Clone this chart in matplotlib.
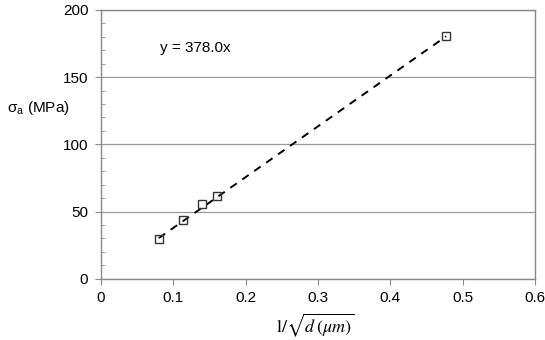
import numpy as np
import matplotlib
matplotlib.use("Agg")
import matplotlib.pyplot as plt
from matplotlib.ticker import MultipleLocator

plt.rcParams['font.family'] = ['Liberation Sans', 'DejaVu Sans']
plt.rcParams['mathtext.fontset'] = 'stix'

## data
inv_sqrt_d = [0.080, 0.114, 0.140, 0.161, 0.477]
sigma_a = [29.3, 43.7, 55.4, 61.8, 180.4]
slope = 378.0
xticks = [0, 0.1, 0.2, 0.3, 0.4, 0.5, 0.6]
xtick_labels = ['0', '0.1', '0.2', '0.3', '0.4', '0.5', '0.6']
yticks = [0, 50, 100, 150, 200]

fig = plt.figure(figsize=(5.45, 3.4), dpi=100)
ax = fig.add_axes([0.185, 0.180, 0.797, 0.791])

# trend line through origin
xfit = np.array([min(inv_sqrt_d), max(inv_sqrt_d)])
ax.plot(xfit, slope * xfit, color='black', ls=(0, (4, 3.5)), lw=1.4, zorder=3)
ax.plot(inv_sqrt_d, sigma_a, ls='none', marker='s', ms=6, mfc='none',
        mec='#333333', mew=1.0, zorder=4)

ax.text(0.082, 172, 'y = 378.0x', fontsize=11, va='center', ha='left')

ax.set_xlim(0, 0.6)
ax.set_ylim(0, 200)
ax.set_xticks(xticks, xtick_labels)
ax.set_yticks(yticks, [str(v) for v in yticks])
ax.yaxis.set_minor_locator(MultipleLocator(10))
ax.tick_params(axis='both', which='major', direction='out', length=4,
               color='#888888', labelsize=11, pad=5)
ax.tick_params(axis='y', which='minor', direction='in', length=3, color='#888888')
ax.grid(axis='y', color='#999999', lw=0.9)
for s in ax.spines.values():
    s.set_color('#888888')
    s.set_linewidth(1.0)

fig.text(0.012, 0.683, r'$\mathregular{\sigma_a}$ (MPa)', fontsize=11, va='center', ha='left')
fig.text(0.578, 0.042, r'$\mathrm{l}/\sqrt{d\,(\mu m)}$', fontsize=13,
         va='center', ha='center')

fig.savefig('out.png', dpi=100)
